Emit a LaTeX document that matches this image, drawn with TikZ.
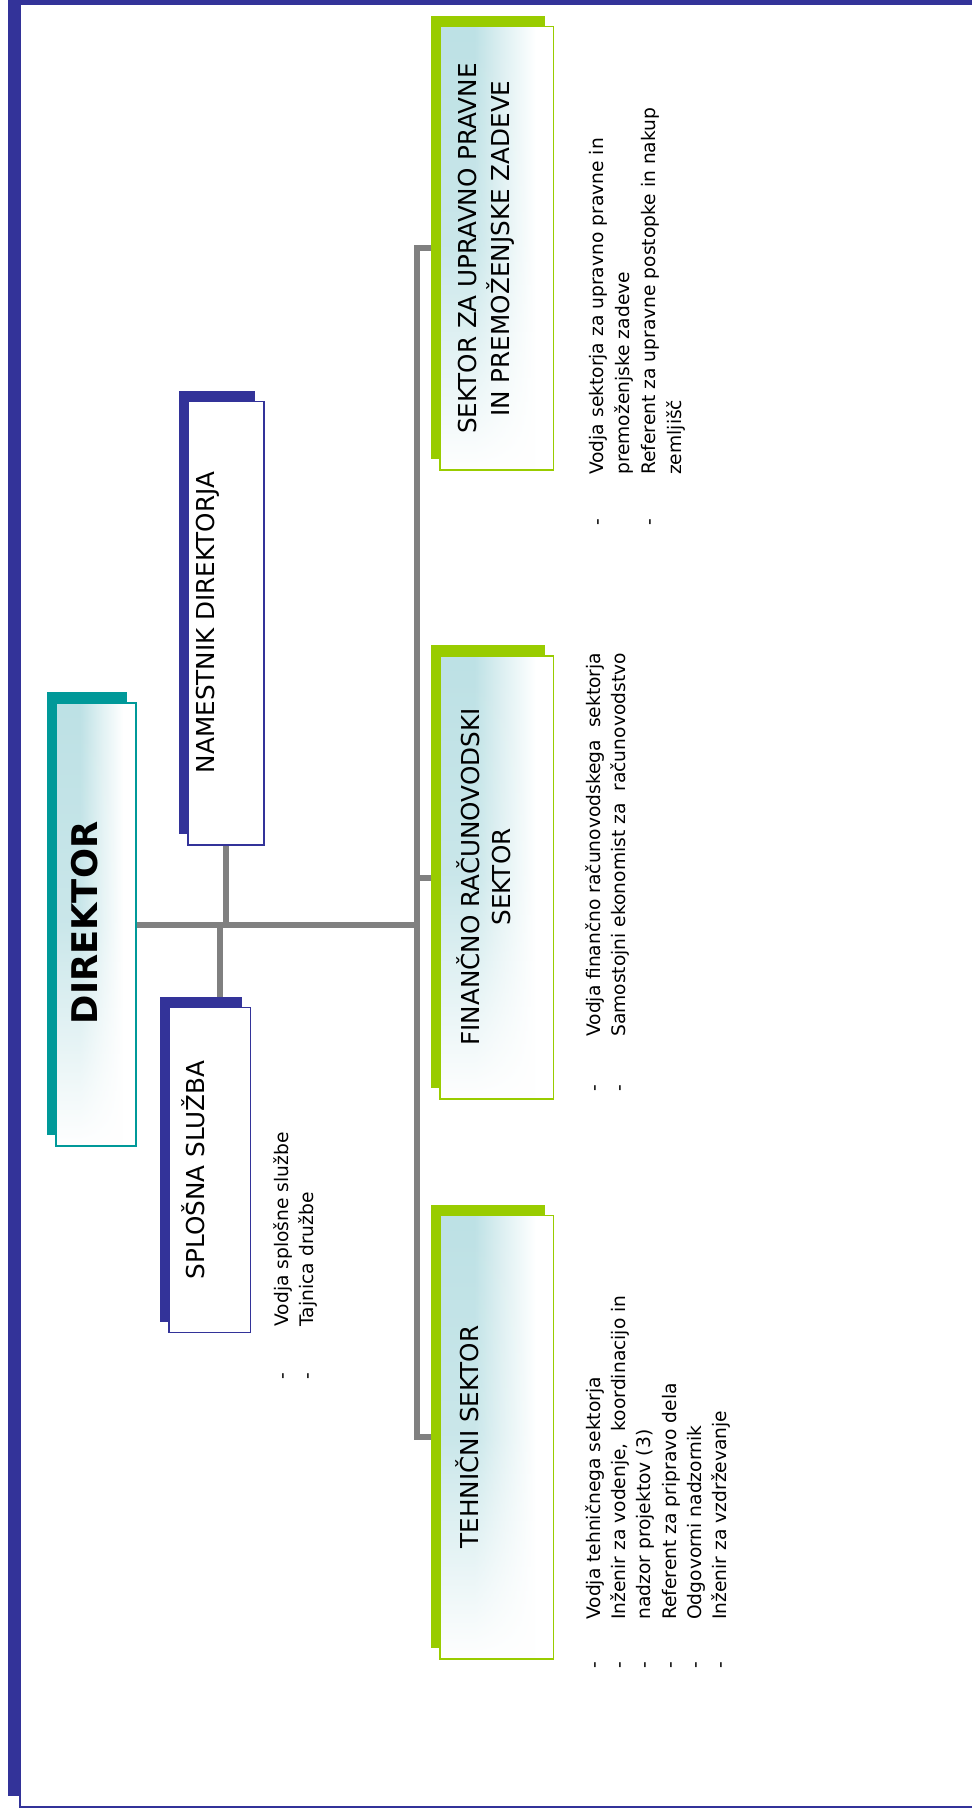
\documentclass[tikz,border=0pt]{standalone}
\usepackage{fontspec}
\setmainfont{DejaVu Sans}
\usetikzlibrary{fit,fadings,backgrounds,calc}
\definecolor{frameblue}{HTML}{333399}
\definecolor{dirteal}{HTML}{009999}
\definecolor{secgreen}{HTML}{99CC00}
\definecolor{conngray}{HTML}{808080}
\definecolor{gradteal}{HTML}{BDE1E5}
\colorlet{gradmid}{gradteal!45!white}
\pgfdeclarehorizontalshading{boxgrad}{100bp}{color(0bp)=(gradteal); color(25bp)=(gradteal); color(40bp)=(gradteal); color(54bp)=(gradmid); color(67bp)=(white); color(100bp)=(white)}
\tikzfading[name=bottomwhite, top color=transparent!100, bottom color=transparent!0, middle color=transparent!80]
\newcommand{\lstdash}[1]{\makebox[#1][l]{-}}
\tikzset{
  conn/.style={draw=conngray, line width=4.5pt},
  boxshadow/.style={preaction={fill=#1, draw=none, transform canvas={shift={(-6.75pt,7.9pt)}}}},
  gradbox/.style={inner sep=0pt, boxshadow=#1, preaction={shading=boxgrad, shade}, preaction={fill=white, path fading=bottomwhite}, draw=#1, line width=1.1pt},
  plainbox/.style={inner sep=0pt, boxshadow=#1, fill=white, draw=#1, line width=1.1pt},
  titletext/.style={rotate=90, inner sep=0pt, font=\fontsize{18.5}{23.25}\selectfont},
  listtext/.style={rotate=90, inner sep=0pt, anchor=base west},
}
\begin{document}
\begin{tikzpicture}[x=0.75pt, y=-0.75pt]
\useasboundingbox (0,0) rectangle (971,1813);
% frame
\begin{scope}[on background layer]
  \fill[frameblue] (8,0) rectangle (980,1796);
  \filldraw[fill=white, draw=frameblue, line width=1.5pt] (19.5,4) rectangle (990,1806.5);
\end{scope}
% boxes
\node[gradbox=dirteal, fit={(56,703) (136,1146)}] (dir) {};
\node[plainbox=frameblue, fit={(188,401.7) (264,845)}] (nam) {};
\node[plainbox=frameblue, fit={(169,1007.3) (250.7,1332.3)}] (spl) {};
\node[gradbox=secgreen, fit={(440,26.7) (553.7,470)}] (sek) {};
\node[gradbox=secgreen, fit={(440,656) (553.7,1099)}] (fin) {};
\node[gradbox=secgreen, fit={(440,1215.7) (553.7,1659)}] (teh) {};
% titles
\node[titletext, font=\fontsize{26.5}{30}\selectfont\bfseries, anchor=base] (dirT) at (97,923) {DIREKTOR};
\node[titletext, anchor=base] (namT) at (214.5,622.5) {NAMESTNIK DIREKTORJA};
\node[titletext, anchor=base] (splT) at (204,1170) {SPLOŠNA SLUŽBA};
\node[titletext, anchor=base] (sekT) at (509,248.5) {\begin{tabular}[b]{@{}c@{}}SEKTOR ZA UPRAVNO PRAVNE\\IN PREMOŽENJSKE ZADEVE\end{tabular}};
\node[titletext, anchor=base] (finT) at (510,877) {\begin{tabular}[b]{@{}c@{}}FINANČNO RAČUNOVODSKI\\SEKTOR\end{tabular}};
\node[titletext, anchor=base] (tehT) at (478,1437) {TEHNIČNI SEKTOR};
% lists
\node[listtext, font=\fontsize{14}{18.75}\selectfont] (splL) at (288,1380) {\begin{tabular}[t]{@{}l@{}l@{}}\lstdash{40pt}&Vodja splošne službe\\\lstdash{40pt}&Tajnica družbe\end{tabular}};
\node[listtext, font=\fontsize{14}{19.5}\selectfont] (sekL) at (603,526) {\begin{tabular}[t]{@{}l@{}l@{}}\lstdash{38.2pt}&Vodja sektorja za upravno pravne in\\&premoženjske zadeve\\\lstdash{38.2pt}&Referent za upravne postopke in nakup\\&zemljišč\end{tabular}};
\node[listtext, font=\fontsize{14}{18.75}\selectfont] (finL) at (600,1091.4) {\begin{tabular}[t]{@{}l@{}l@{}}\lstdash{40.8pt}&Vodja finančno računovodskega\ \ sektorja\\\lstdash{40.8pt}&Samostojni ekonomist za\ \ računovodstvo\end{tabular}};
\node[listtext, font=\fontsize{14}{19}\selectfont] (tehL) at (600,1668.4) {\begin{tabular}[t]{@{}l@{}l@{}}\lstdash{36.3pt}&Vodja tehničnega sektorja\\\lstdash{36.3pt}&Inženir za vodenje,\ \ koordinacijo in\\\lstdash{36.3pt}&nadzor projektov (3)\\\lstdash{36.3pt}&Referent za pripravo dela\\\lstdash{36.3pt}&Odgovorni nadzornik\\\lstdash{36.3pt}&Inženir za vzdrževanje\end{tabular}};
% connectors
\coordinate (spine) at (416.5,924.5);
\begin{scope}[on background layer]
  \draw[conn] (dir.east) -- (spine);
  \draw[conn] (sek.west) -| (spine);
  \draw[conn] (teh.west) -| (spine);
  \draw[conn] (fin.west) -- (fin.west -| spine);
  \draw[conn] (nam.south) -- (nam.south |- spine);
  \draw[conn] ([xshift=7.5pt]spl.north) -- ([xshift=7.5pt]spl.north |- spine);
\end{scope}
\end{tikzpicture}
\end{document}
